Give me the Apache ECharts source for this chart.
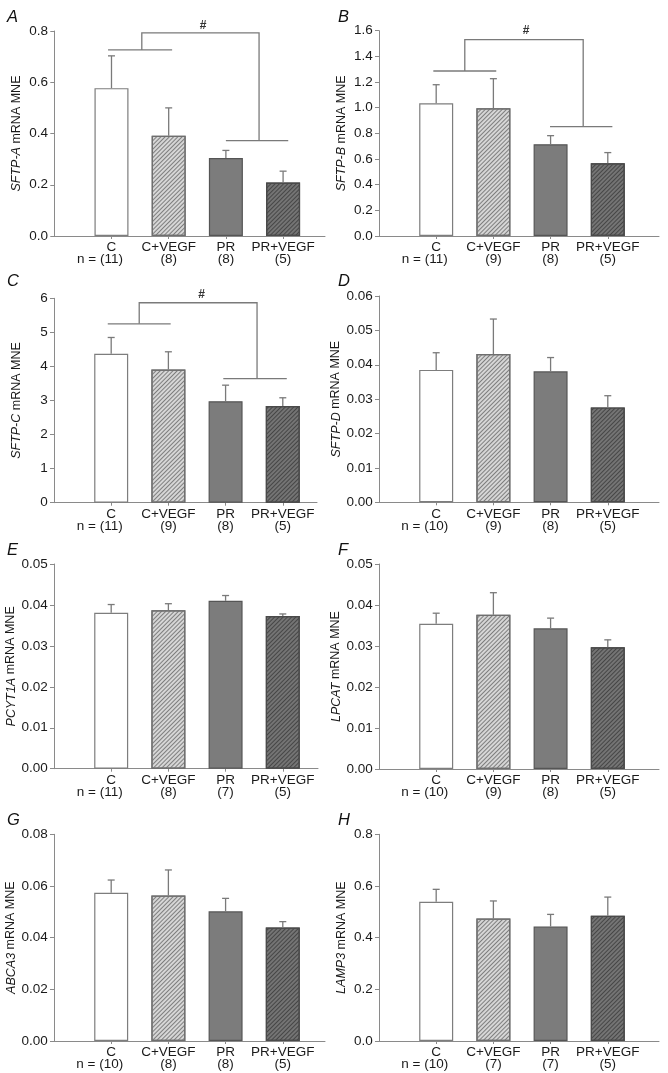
<!DOCTYPE html>
<html><head><meta charset="utf-8">
<script src="https://cdn.jsdelivr.net/npm/echarts@6/dist/echarts.min.js"></script>
<style>html,body{margin:0;padding:0;background:#fff}#c{width:668px;height:1073px}</style>
</head><body><div id="c"></div>
<script>
// ---------- DATA ----------
const categories = ['C', 'C+VEGF', 'PR', 'PR+VEGF'];
const panelLetters = ['A', 'B', 'C', 'D', 'E', 'F', 'G', 'H'];
const genes = ['SFTP-A', 'SFTP-B', 'SFTP-C', 'SFTP-D', 'PCYT1A', 'LPCAT', 'ABCA3', 'LAMP3'];

// means (bar heights) and mean+SEM (error bar tops)
const meanA = [0.577, 0.391, 0.304, 0.209];  const errA = [0.703, 0.500, 0.334, 0.253];
const meanB = [1.034, 0.995, 0.715, 0.567];  const errB = [1.179, 1.226, 0.782, 0.650];
const meanC = [4.37, 3.91, 2.98, 2.84];      const errC = [4.85, 4.43, 3.45, 3.08];
const meanD = [0.0385, 0.0431, 0.0381, 0.0276]; const errD = [0.0435, 0.0533, 0.0421, 0.0310];
const meanE = [0.0381, 0.0387, 0.0410, 0.0373]; const errE = [0.0401, 0.0403, 0.0423, 0.0378];
const meanF = [0.0354, 0.0376, 0.0343, 0.0297]; const errF = [0.0380, 0.0430, 0.0368, 0.0315];
const meanG = [0.0574, 0.0563, 0.0502, 0.0439]; const errG = [0.0623, 0.0662, 0.0552, 0.0462];
const meanH = [0.539, 0.474, 0.443, 0.485];  const errH = [0.587, 0.542, 0.490, 0.557];

// group sizes
const nA = [11, 8, 8, 5]; const nB = [11, 9, 8, 5]; const nC = [11, 9, 8, 5]; const nD = [10, 9, 8, 5];
const nE = [11, 8, 7, 5]; const nF = [10, 9, 8, 5]; const nG = [10, 8, 8, 5]; const nH = [10, 7, 7, 5];
const nPrefix = 'n =';

// y-axis ranges: [max, interval, decimals]
const yAxisA = [0.8, 0.2, 1]; const yAxisB = [1.6, 0.2, 1]; const yAxisC = [6, 1, 0]; const yAxisD = [0.06, 0.01, 2];
const yAxisE = [0.05, 0.01, 2]; const yAxisF = [0.05, 0.01, 2]; const yAxisG = [0.08, 0.02, 2]; const yAxisH = [0.8, 0.2, 1];

// significance brackets (x in category positions 1..4, y in data units):
// [leftX1, leftX2, leftY, midX, topY, rightVertX, rightX1, rightX2, rightY, hashX, hashY]
const bracketA = [0.94, 2.06, 0.726, 1.53, 0.793, 3.58, 3.00, 4.09, 0.372, 2.60, 0.82];
const bracketB = [0.95, 2.05, 1.286, 1.50, 1.53, 3.57, 2.99, 4.08, 0.852, 2.57, 1.60];
const bracketC = [0.94, 2.04, 5.25, 1.49, 5.87, 3.55, 2.96, 4.07, 3.64, 2.58, 6.10];

const means = [meanA, meanB, meanC, meanD, meanE, meanF, meanG, meanH];
const errs = [errA, errB, errC, errD, errE, errF, errG, errH];
const ns = [nA, nB, nC, nD, nE, nF, nG, nH];
const yAxes = [yAxisA, yAxisB, yAxisC, yAxisD, yAxisE, yAxisF, yAxisG, yAxisH];
const brackets = [bracketA, bracketB, bracketC, null, null, null, null, null];

// ---------- LAYOUT (pixels) ----------
// [left, top, right end, bottom]
const geom = [
  [52, 31, 325, 236], [376.7, 30.7, 659, 236],
  [51.7, 298.3, 317, 502.7], [376.7, 296, 659, 502.3],
  [51.7, 564, 318, 768.7], [376.7, 564, 659, 769],
  [51.7, 834.3, 325, 1041], [376.7, 834.3, 659, 1041]
];
const letterPos = [[2, 4], [333, 4], [2, 268], [333, 268], [2, 537], [333, 537], [2, 807], [333, 807]];
const SLOT = 57.2, XMIN = -0.04;
const LBL_MARGIN = 5.5, LBL_LH = 12;

const FONT = '"Liberation Sans", Arial, Helvetica, sans-serif';
const AX = '#8a8a8a';
const barStyles = [
  { color: '#ffffff', borderColor: '#7d7d7d', borderWidth: 1.2 },
  { color: '#d6d6d6', borderColor: '#6e6e6e', borderWidth: 1.2,
    decal: { symbol: 'rect', symbolSize: 1, dashArrayX: [1, 0], dashArrayY: [1, 2], rotation: -Math.PI / 4, color: '#7e7e7e' } },
  { color: '#7c7c7c', borderColor: '#555555', borderWidth: 1.2 },
  { color: '#747474', borderColor: '#4a4a4a', borderWidth: 1.2,
    decal: { symbol: 'rect', symbolSize: 1, dashArrayX: [1, 0], dashArrayY: [1, 2], rotation: -Math.PI / 4, color: '#464646' } }
];

const grids = [], xAxes = [], yAxesOpt = [], series = [], titles = [];
geom.forEach((g, i) => {
  const [l, t, r, b] = g;
  const w = r - l, h = b - t;
  grids.push({ left: l, top: t, width: w, height: h, containLabel: false });
  const nArr = ns[i];
  xAxes.push({
    type: 'value', gridIndex: i, min: XMIN, max: XMIN + w / SLOT,
    splitLine: { show: false },
    axisLine: { show: true, onZero: false, lineStyle: { color: AX, width: 1 } },
    axisTick: { show: true, length: 3, lineStyle: { color: AX }, customValues: [1, 2, 3, 4] },
    axisLabel: {
      customValues: [1, 2, 3, 4], margin: LBL_MARGIN, fontFamily: FONT, fontSize: 13.5, color: '#1a1a1a',
      lineHeight: LBL_LH, showMinLabel: true, showMaxLabel: true, hideOverlap: false,
      formatter: v => {
        const k = Math.round(v) - 1;
        if (k < 0 || k > 3) return '';
        return categories[k] + '\n(' + nArr[k] + ')';
      }
    }
  });
  const [ymax, yint, dec] = yAxes[i];
  yAxesOpt.push({
    type: 'value', gridIndex: i, min: 0, max: ymax, interval: yint,
    splitLine: { show: false },
    axisLine: { show: true, lineStyle: { color: AX, width: 1 } },
    axisTick: { show: true, length: 4, lineStyle: { color: AX } },
    axisLabel: { margin: 4, fontFamily: FONT, fontSize: 13.5, color: '#1a1a1a', formatter: v => v.toFixed(dec) },
    name: '{i|' + genes[i] + '} mRNA MNE', nameLocation: 'middle', nameGap: 29,
    nameTextStyle: { fontFamily: FONT, fontSize: 12.5, color: '#1a1a1a',
      rich: { i: { fontFamily: FONT, fontSize: 12.5, fontStyle: 'italic', color: '#1a1a1a' } } }
  });
  titles.push({ text: panelLetters[i], left: letterPos[i][0], top: letterPos[i][1],
    textStyle: { fontFamily: FONT, fontSize: 16.5, fontStyle: 'italic', fontWeight: 'normal', color: '#111' } });

  series.push({
    type: 'bar', xAxisIndex: i, yAxisIndex: i, barWidth: 34, silent: true,
    data: means[i].map((m, j) => ({ value: [j + 1, m], itemStyle: barStyles[j] }))
  });
  series.push({
    type: 'custom', xAxisIndex: i, yAxisIndex: i, silent: true, z: 3,
    data: means[i].map((m, j) => [j + 1, m, errs[i][j]]),
    encode: { x: 0, y: [1, 2] },
    renderItem: (params, api) => {
      const p0 = api.coord([api.value(0), api.value(1)]);
      const p1 = api.coord([api.value(0), api.value(2)]);
      const st = { stroke: '#7a7a7a', lineWidth: 1.3 };
      return { type: 'group', children: [
        { type: 'line', shape: { x1: p0[0], y1: p0[1], x2: p1[0], y2: p1[1] }, style: st },
        { type: 'line', shape: { x1: p1[0] - 3.5, y1: p1[1], x2: p1[0] + 3.5, y2: p1[1] }, style: st }
      ] };
    }
  });
  // "n =" prefix left of the first group's n label
  series.push({
    type: 'custom', xAxisIndex: i, yAxisIndex: i, silent: true, z: 5, clip: false,
    data: [[1, 0, nArr[0]]],
    encode: { x: 0, y: 1 },
    renderItem: (params, api) => {
      const p = api.coord([api.value(0), api.value(1)]);
      const txt = '(' + api.value(2) + ')';
      const halfW = echarts.format.getTextRect
        ? echarts.format.getTextRect(txt, '13.5px ' + FONT).width / 2 : 12;
      return { type: 'text', x: p[0] - halfW - 3.8, y: p[1] + LBL_MARGIN + LBL_LH * 1.5,
        style: { text: nPrefix, fontFamily: FONT, fontSize: 13.5, fill: '#1a1a1a', align: 'right', verticalAlign: 'middle' } };
    }
  });
  const br = brackets[i];
  if (br) {
    series.push({
      type: 'custom', xAxisIndex: i, yAxisIndex: i, silent: true, z: 4, clip: false,
      data: [br],
      encode: { x: [0, 1], y: [2] },
      renderItem: (params, api) => {
        const v = k => api.value(k);
        const c = (x, y) => api.coord([x, y]);
        const st = { stroke: '#7a7a7a', lineWidth: 1.3, fill: null };
        const a1 = c(v(0), v(2)), a2 = c(v(1), v(2));
        const m1 = c(v(3), v(2)), m2 = c(v(3), v(4));
        const r1 = c(v(5), v(4)), r2 = c(v(5), v(8));
        const b1 = c(v(6), v(8)), b2 = c(v(7), v(8));
        const hp = c(v(9), v(10));
        return { type: 'group', children: [
          { type: 'line', shape: { x1: a1[0], y1: a1[1], x2: a2[0], y2: a2[1] }, style: st },
          { type: 'polyline', shape: { points: [m1, m2, r1, r2] }, style: st },
          { type: 'line', shape: { x1: b1[0], y1: b1[1], x2: b2[0], y2: b2[1] }, style: st },
          { type: 'text', x: hp[0], y: hp[1], style: { text: '#', fontFamily: FONT, fontSize: 12, fontWeight: 'bold', fill: '#333', align: 'center', verticalAlign: 'middle' } }
        ] };
      }
    });
  }
});

const chart = echarts.init(document.getElementById('c'), null, { renderer: 'canvas' });
chart.setOption({
  animation: false,
  backgroundColor: '#ffffff',
  title: titles,
  grid: grids,
  xAxis: xAxes,
  yAxis: yAxesOpt,
  series: series
});
</script>
</body></html>
